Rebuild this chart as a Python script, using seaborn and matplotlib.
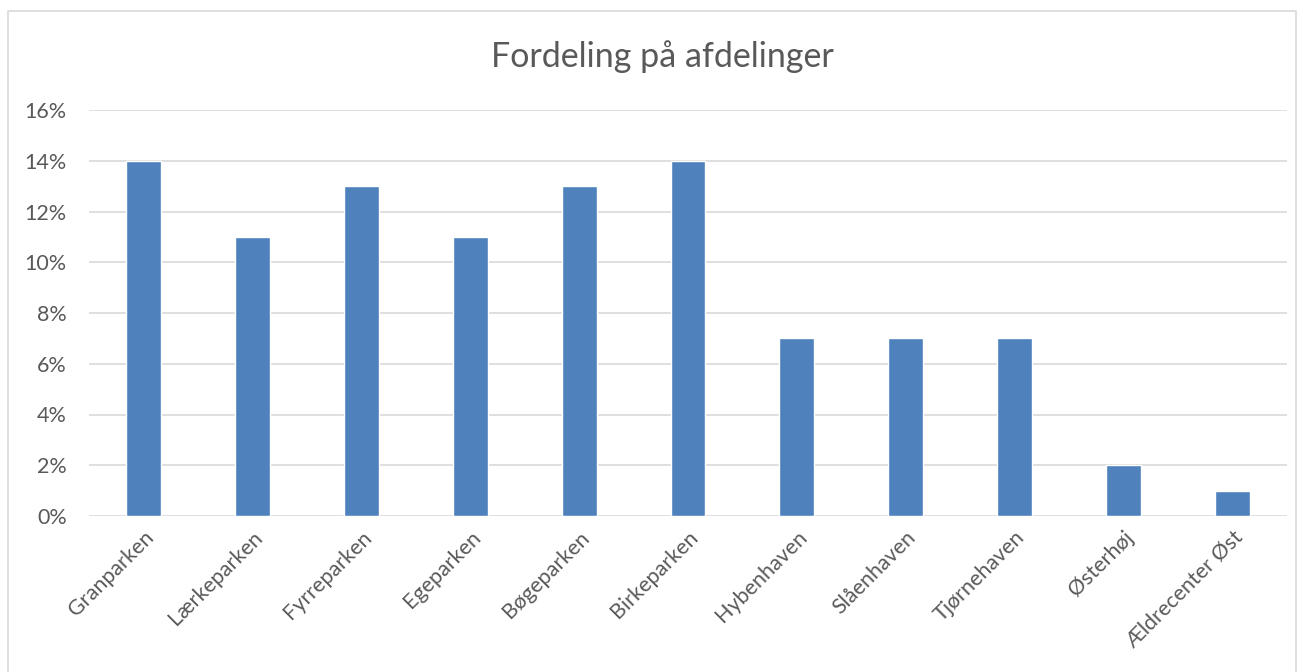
import matplotlib
matplotlib.use("Agg")
import matplotlib.pyplot as plt
import seaborn as sns
import pandas as pd
from matplotlib.patches import Rectangle
from matplotlib.ticker import PercentFormatter

departments = ["Granparken", "Lærkeparken", "Fyrreparken", "Egeparken", "Bøgeparken",
               "Birkeparken", "Hybenhaven", "Slåenhaven", "Tjørnehaven", "Østerhøj",
               "Ældrecenter Øst"]
shares = [0.14, 0.11, 0.13, 0.11, 0.13, 0.14, 0.07, 0.07, 0.07, 0.02, 0.01]

df = pd.DataFrame({"afdeling": departments, "andel": shares})

sns.set_style("white")
plt.rcParams["font.family"] = ["Lato", "DejaVu Sans"]

fig = plt.figure(figsize=(13.03, 6.72), dpi=100)
ax = fig.add_axes([89 / 1303, 1 - 516 / 672, (1287 - 89) / 1303, (516 - 110) / 672])

sns.barplot(data=df, x="afdeling", y="andel", color="#4F81BD", width=0.32,
            saturation=1, ax=ax, zorder=3)

ax.set_ylim(0, 0.16)
ax.set_yticks([i / 100 for i in range(0, 17, 2)])
ax.yaxis.set_major_formatter(PercentFormatter(1.0, decimals=0))
ax.grid(axis="y", color="#D9D9D9", linewidth=1.2, zorder=0)
ax.set_axisbelow(True)
for s in ax.spines.values():
    s.set_visible(False)
ax.tick_params(axis="both", length=0, labelsize=15.5, colors="#595959", pad=8)
ax.tick_params(axis="y", pad=16)
plt.setp(ax.get_xticklabels(), rotation=45, ha="right", rotation_mode="anchor")
ax.set_xlabel("")
ax.set_ylabel("")

fig.text(662 / 1303, 1 - 57 / 672, "Fordeling på afdelinger", ha="center", va="center",
         fontsize=24.5, color="#595959")

fig.patches.append(Rectangle((8 / 1303, -0.01), (1296 - 8) / 1303, 1 - 11 / 672 + 0.01,
                             transform=fig.transFigure, fill=False,
                             edgecolor="#D9D9D9", linewidth=1.2))

fig.savefig("out.png", dpi=100)
